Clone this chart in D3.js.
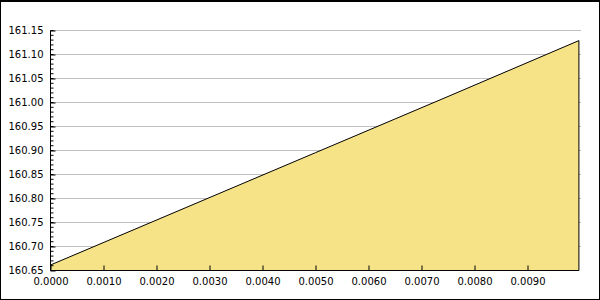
<!DOCTYPE html>
<html><head><meta charset="utf-8">
<script src="https://cdn.jsdelivr.net/npm/d3@7"></script>
<style>body{margin:0;background:#fff}svg{display:block}text{font-family:"DejaVu Sans",sans-serif;font-size:10px;fill:#000}</style>
</head><body><svg id="c" width="600" height="300"></svg>
<script>
const xValues = [0, 0.0025, 0.005, 0.0075, 0.00997];
const yValues = [160.6615, 160.7785, 160.8955, 161.0125, 161.129];
const xTicks = [0, 0.001, 0.002, 0.003, 0.004, 0.005, 0.006, 0.007, 0.008, 0.009];
const yTicks = [160.65, 160.70, 160.75, 160.80, 160.85, 160.90, 160.95, 161.00, 161.05, 161.10, 161.15];

const svg = d3.select('#c');
const x = d3.scaleLinear().domain([0, 0.01]).range([50.5, 580.5]);
const y = d3.scaleLinear().domain([160.65, 161.15]).range([270.5, 30.5]);
const data = xValues.map((v, i) => ({x: v, y: yValues[i]}));

// border
svg.append('rect').attr('x', 0.5).attr('y', 0.5).attr('width', 599).attr('height', 299)
  .attr('fill', 'none').attr('stroke', '#000');
svg.append('line').attr('x1', 0).attr('x2', 600).attr('y1', 1.5).attr('y2', 1.5).attr('stroke', '#000');

// grid
svg.append('g').selectAll('line').data(yTicks.slice(1)).join('line')
  .attr('x1', x(0)).attr('x2', x(0.01) + 0.5)
  .attr('y1', d => Math.round(y(d) - 0.5) + 0.5).attr('y2', d => Math.round(y(d) - 0.5) + 0.5)
  .attr('stroke', '#c0c0c0').attr('stroke-width', 1);

// area
const xEnd = xValues[xValues.length - 1];
svg.append('path').datum(data)
  .attr('d', d3.area().x(d => x(d.x)).y0(y(160.65)).y1(d => y(d.y)))
  .attr('fill', '#f6e287').attr('stroke', 'none');
svg.append('path').datum(data)
  .attr('d', d3.line().x(d => x(d.x)).y(d => y(d.y)))
  .attr('fill', 'none').attr('stroke', '#000').attr('stroke-width', 1);
svg.append('line').attr('x1', x(xEnd)).attr('x2', x(xEnd)).attr('y1', y(yValues[yValues.length-1])).attr('y2', y(160.65))
  .attr('stroke', '#000');

// y axis
const minor = d3.range(160.65, 161.1501, 0.01);
const yAxis = d3.axisLeft(y).tickValues(yTicks).tickFormat(d3.format('.2f')).tickSize(-5).tickPadding(7);
const ga = svg.append('g').attr('transform', `translate(${x(0)},0)`).call(yAxis);
ga.select('.domain').attr('d', `M0,${y(161.15)}V${y(160.65)}`);
ga.selectAll('text').attr('font-family', '"DejaVu Sans",sans-serif').attr('font-size', 10.5);
svg.append('g').selectAll('line').data(minor).join('line')
  .attr('x1', x(0)).attr('x2', x(0) + 3)
  .attr('y1', d => y(d)).attr('y2', d => y(d)).attr('stroke', '#000');

// x axis
const xAxis = d3.axisBottom(x).tickValues(xTicks).tickFormat(d3.format('.4f')).tickSize(-5).tickPadding(7);
const gx = svg.append('g').attr('transform', `translate(0,${y(160.65)})`).call(xAxis);
gx.select('.domain').attr('d', `M${x(0)},0H${x(xEnd)}`);
gx.selectAll('text').attr('font-family', '"DejaVu Sans",sans-serif').attr('font-size', 10);
</script></body></html>
